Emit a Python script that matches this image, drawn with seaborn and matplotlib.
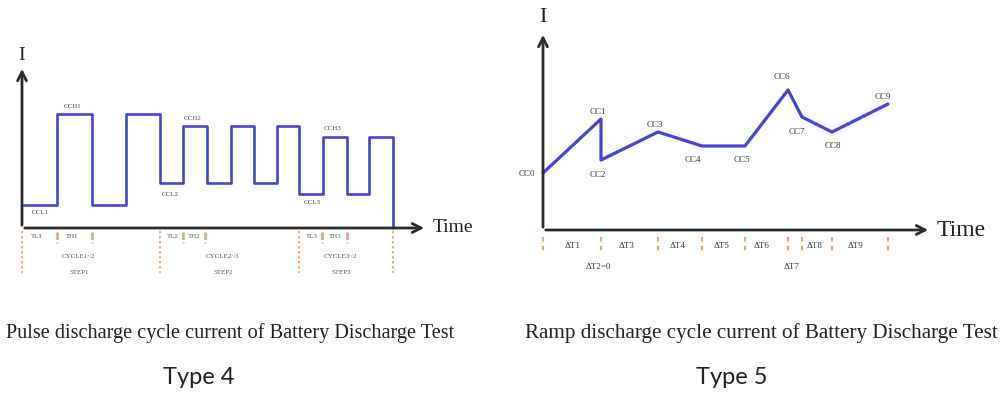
import pandas as pd
import seaborn as sns
import matplotlib.pyplot as plt

# ---- Type 4: pulse discharge (segment edges in time units, current level per segment)
pulse_edges = [0, 35, 70, 104, 138, 161, 185, 209, 232, 255, 277, 301, 325, 347, 371]
pulse_levels = [23, 114, 23, 114, 45, 102, 45, 102, 45, 102, 34, 91, 34, 91]
pulse_long_marks = [0, 138, 277, 371]
pulse_short_marks = [35, 70, 161, 183, 300, 325]
pulse_point_labels = ["CCH1", "CCL1", "CCL2", "CCH2", "CCL3", "CCH3"]
pulse_point_t = [51, 18, 148, 171, 290, 311]
pulse_point_i = [121, 15, 33, 110, 25, 99]
phase_labels = ["TL1", "TH1", "TL2", "TH2", "TL3", "TH3"]
phase_t = [15, 50, 151, 172, 290, 313]
cycle_labels = ["CYCLE1~2", "CYCLE2~3", "CYCLE3~2"]
step_labels = ["STEP1", "STEP2", "STEP3"]
cycle_t = [57, 201, 319]

# ---- Type 5: ramp discharge
ramp_t = [0, 58, 58, 115, 159, 202, 245, 259, 289, 345]
ramp_i = [57, 111, 70, 98, 84, 84, 140, 113, 98, 126]
ramp_labels = ["CC0", "CC1", "CC2", "CC3", "CC4", "CC5", "CC6", "CC7", "CC8", "CC9"]
ramp_label_t = [-16, 55, 55, 112, 150, 199, 239, 254, 290, 340]
ramp_label_i = [56, 118, 55, 105, 70, 70, 153, 98, 84, 133]
dt_labels = ["ΔT1", "ΔT2=0", "ΔT3", "ΔT4", "ΔT5", "ΔT6", "ΔT7", "ΔT8", "ΔT9"]
dt_t = [30, 55, 84, 135, 179, 219, 249, 272, 312]
dt_row = [0, 1, 0, 0, 0, 0, 1, 0, 0]

BLUE = "#4545d4"
ORANGE = "#f0a060"
AXIS = "#2b2b2b"
SERIF = "Liberation Serif"

sns.set_theme(style="white")
W, H = 1008, 394
fig = plt.figure(figsize=(W / 100, H / 100), dpi=100)
fig.patch.set_facecolor("white")


def px_axes(x0, y0, x1, y1, ox, oy):
    # axes covering pixel box, 1 data unit = 1 pixel, origin at (ox, oy)
    ax = fig.add_axes([x0 / W, 1 - y1 / H, (x1 - x0) / W, (y1 - y0) / H])
    ax.set_xlim(x0 - ox, x1 - ox)
    ax.set_ylim(oy - y1, oy - y0)
    ax.axis("off")
    return ax


def draw_axes(ax, xtip, ytip, time_size, i_size, i_y):
    arrow = dict(arrowstyle="->", lw=2.0, color=AXIS, mutation_scale=16)
    ax.annotate("", xy=(xtip, 0), xytext=(0, 0), arrowprops=arrow)
    ax.annotate("", xy=(0, ytip), xytext=(0, 0), arrowprops=arrow)
    ax.text(xtip + 6, 0, "Time", fontsize=time_size, family=SERIF, color="#222",
            va="center", ha="left")
    ax.text(0, i_y, "I", fontsize=i_size, family=SERIF, color="#222",
            va="center", ha="center")


# ---------------- left panel ----------------
axl = px_axes(0, 40, 470, 290, 22, 228)
xs, ys = [], []
for k, lev in enumerate(pulse_levels):
    xs += [pulse_edges[k], pulse_edges[k + 1]]
    ys += [lev, lev]
xs.append(pulse_edges[-1])
ys.append(0)
pulse_df = pd.DataFrame({"t": xs, "I": ys})
sns.lineplot(data=pulse_df, x="t", y="I", ax=axl, color=BLUE, lw=1.9,
             estimator=None, sort=False)
draw_axes(axl, 405, 162, 14, 14, 172)

for t in pulse_long_marks:
    axl.plot([t, t], [-3, -45], color=ORANGE, lw=1.2, ls=(0, (1.5, 1.5)))
for t in pulse_short_marks:
    axl.plot([t, t], [-4, -15], color=ORANGE, lw=1.8, ls=(0, (3, 1)))

for lab, t, i in zip(pulse_point_labels, pulse_point_t, pulse_point_i):
    axl.text(t, i, lab, fontsize=5, family=SERIF, color="#444466",
             ha="center", va="center")
for lab, t in zip(phase_labels, phase_t):
    axl.text(t, -8, lab, fontsize=5, family=SERIF, color="#555",
             ha="center", va="center")
for c, s, t in zip(cycle_labels, step_labels, cycle_t):
    axl.text(t, -29, c, fontsize=5, family=SERIF, color="#555",
             ha="center", va="center")
    axl.text(t, -45, s, fontsize=5, family=SERIF, color="#555",
             ha="center", va="center")

# ---------------- right panel ----------------
axr = px_axes(500, 0, 1008, 290, 543, 230)
ramp_df = pd.DataFrame({"t": ramp_t, "I": ramp_i})
sns.lineplot(data=ramp_df, x="t", y="I", ax=axr, color=BLUE, lw=2.3,
             estimator=None, sort=False)
draw_axes(axr, 388, 198, 17, 16, 212)

for t in sorted(set(ramp_t)):
    axr.plot([t, t], [-7, -24], color=ORANGE, lw=1.6, ls=(0, (2, 2)))
for lab, t, i in zip(ramp_labels, ramp_label_t, ramp_label_i):
    axr.text(t, i, lab, fontsize=6.5, family=SERIF, color="#333",
             ha="center", va="center")
for lab, t, r in zip(dt_labels, dt_t, dt_row):
    axr.text(t, -16 - 21 * r, lab, fontsize=6.5, family=SERIF, color="#333",
             ha="center", va="center")

# ---------------- captions ----------------
fig.text(230 / W, 1 - 333 / H,
         "Pulse discharge cycle current of Battery Discharge Test",
         fontsize=14.6, family=SERIF, color="#222", ha="center", va="center")
fig.text(761 / W, 1 - 333 / H,
         "Ramp discharge cycle current of Battery Discharge Test",
         fontsize=15.2, family=SERIF, color="#222", ha="center", va="center")
fig.text(199 / W, 1 - 378 / H, "Type 4", fontsize=17, family="Lato",
         color="#222", ha="center", va="center")
fig.text(732 / W, 1 - 378 / H, "Type 5", fontsize=17, family="Lato",
         color="#222", ha="center", va="center")

fig.savefig("out.png", dpi=100, facecolor="white")
